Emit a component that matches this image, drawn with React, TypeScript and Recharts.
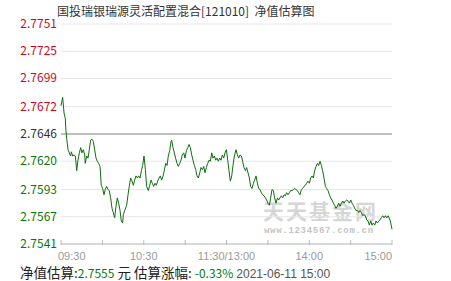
import React from 'react';
import { LineChart, Line, XAxis, YAxis, CartesianGrid, ReferenceLine } from 'recharts';

const BASE = 2.7646;

// left axis ticks (unit NAV), right axis labels (% change vs. base)
const navTicks = [2.7541, 2.7567, 2.7593, 2.762, 2.7646, 2.7672, 2.7699, 2.7725, 2.7751];
const pctLabels = ['-0.38%', '-0.29%', '-0.19%', '-0.10%', '0.00%', '0.10%', '0.19%', '0.29%', '0.38%'];

// minutes since 09:30 (trading minutes, lunch break removed)
const timeTicks = [0, 30, 60, 90, 120, 150, 180, 210, 240];
const timeLabels = ['09:30', '', '10:30', '', '11:30/13:00', '', '14:00', '', '15:00'];

// [minute, estimated nav]
const navPoints: [number, number][] = [
  [0, 2.7673], [1.2, 2.7681], [2.2, 2.7666], [3.1, 2.7661], [3.6, 2.7649], [4.1, 2.7642], [5.1, 2.7631],
  [6.0, 2.7628], [7.0, 2.7625], [7.5, 2.7629], [8.5, 2.7625], [9.4, 2.7626], [10.4, 2.7625], [11.4, 2.7611],
  [12.3, 2.7621], [13.3, 2.7628], [14.3, 2.7633], [15.2, 2.7628], [16.2, 2.7631], [17.2, 2.7626], [17.6, 2.7618],
  [18.6, 2.7625], [19.6, 2.7623], [20.5, 2.7631], [21.5, 2.764], [22.5, 2.7641], [23.4, 2.7639], [24.4, 2.7631],
  [25.4, 2.7623], [26.3, 2.762], [27.3, 2.7618], [28.3, 2.7615], [29.2, 2.7597], [30.2, 2.7594], [31.2, 2.7588],
  [32.1, 2.7593], [33.1, 2.7596], [34.1, 2.7593], [35.0, 2.7592], [36.0, 2.7585], [37.0, 2.7575], [37.9, 2.7571],
  [38.9, 2.7566], [39.9, 2.7577], [40.8, 2.7585], [41.8, 2.758], [42.8, 2.7573], [43.7, 2.7563], [44.7, 2.7561],
  [45.2, 2.7569], [46.2, 2.7573], [47.6, 2.7578], [48.6, 2.7588], [49.5, 2.7596], [50.5, 2.7604], [51.5, 2.7601],
  [52.5, 2.7597], [53.4, 2.7602], [54.4, 2.7606], [55.4, 2.7604], [56.3, 2.7606], [57.3, 2.7604], [58.3, 2.7611],
  [59.2, 2.7616], [60.2, 2.7625], [61.2, 2.7612], [62.1, 2.7596],
  [63.3, 2.7592], [64.3, 2.7597], [65.3, 2.7602], [66.2, 2.7599], [67.2, 2.7596], [68.2, 2.7599], [69.1, 2.7597],
  [70.1, 2.7601], [71.1, 2.7604], [72.0, 2.7606], [73.0, 2.7602], [74.0, 2.7606], [74.9, 2.7611], [75.9, 2.7618],
  [76.9, 2.7616], [77.8, 2.7625], [78.8, 2.763], [79.8, 2.7639], [80.3, 2.764], [81.2, 2.7633], [82.2, 2.7628],
  [83.1, 2.7623], [84.1, 2.7618], [85.1, 2.7615], [86.1, 2.7618], [87.0, 2.7621], [88.0, 2.7626], [89.0, 2.7628],
  [89.9, 2.7623], [90.9, 2.763], [91.9, 2.7633], [92.8, 2.7636], [93.8, 2.7633], [94.8, 2.7626], [95.7, 2.7621],
  [96.7, 2.7616], [97.7, 2.7612], [98.6, 2.7606], [99.6, 2.7604], [100.6, 2.7609], [101.5, 2.7614], [102.5, 2.7612],
  [103.5, 2.7615], [104.4, 2.7609], [105.4, 2.7614], [106.4, 2.7618], [107.3, 2.7621], [108.3, 2.762], [109.3, 2.7628],
  [110.2, 2.7623], [111.2, 2.7625], [112.2, 2.7621], [113.1, 2.7623], [114.1, 2.762], [115.1, 2.7623], [116.0, 2.7621],
  [117.0, 2.7626], [118.0, 2.7623], [118.9, 2.7628], [119.9, 2.7631], [120.9, 2.7621], [121.8, 2.7611], [122.8, 2.7601],
  [123.8, 2.7606], [124.7, 2.7616], [125.7, 2.7625],
  [126.9, 2.7631], [127.9, 2.7626], [128.8, 2.7623], [129.8, 2.7626], [130.8, 2.7625], [131.7, 2.762], [132.7, 2.7614],
  [133.7, 2.7611], [134.6, 2.7614], [135.6, 2.7609], [136.6, 2.7604], [137.5, 2.7596], [138.5, 2.7594], [139.5, 2.7599],
  [140.4, 2.7602], [141.4, 2.7606], [142.4, 2.7599], [143.3, 2.7594], [144.3, 2.7593], [145.3, 2.759], [146.2, 2.7588],
  [147.2, 2.7587], [148.2, 2.7585], [149.1, 2.7583], [150.1, 2.758], [151.1, 2.7578], [152.0, 2.7585], [153.0, 2.7593],
  [154.0, 2.7592], [154.9, 2.7585], [155.9, 2.758], [156.9, 2.7585], [157.8, 2.7583], [158.8, 2.7585], [159.8, 2.7587],
  [160.7, 2.7585], [161.7, 2.7588], [162.7, 2.7587], [163.6, 2.759], [164.6, 2.7588], [165.6, 2.759], [166.5, 2.7592],
  [167.5, 2.7592], [168.5, 2.7593], [169.4, 2.7594], [170.4, 2.7593], [171.4, 2.7592], [172.3, 2.759], [173.3, 2.7588],
  [174.3, 2.7593], [175.2, 2.7594], [176.2, 2.7596], [177.2, 2.7597], [178.1, 2.7599], [179.1, 2.7601], [180.1, 2.7599],
  [181.0, 2.7604], [182.0, 2.7606], [183.0, 2.7604], [183.9, 2.7611], [184.9, 2.7615], [185.9, 2.7618], [186.8, 2.7616],
  [187.8, 2.762], [188.8, 2.7616], [189.7, 2.7611], [190.7, 2.7604], [191.7, 2.7596], [192.6, 2.7594], [193.6, 2.7592],
  [194.6, 2.7588], [195.5, 2.7585], [196.5, 2.7583], [197.5, 2.758], [198.4, 2.7578], [199.4, 2.7575], [200.4, 2.7577],
  [201.3, 2.758], [202.3, 2.7577], [203.3, 2.758], [204.3, 2.7582], [205.2, 2.758], [206.2, 2.7582], [207.2, 2.7583],
  [208.1, 2.7582], [209.1, 2.758], [210.1, 2.7583], [211.0, 2.758], [212.0, 2.7578], [213.0, 2.7575], [213.9, 2.7573],
  [214.9, 2.7573], [215.9, 2.7571], [216.8, 2.7573], [217.8, 2.7571], [218.8, 2.7568], [219.7, 2.7569], [220.7, 2.7568],
  [221.7, 2.7564], [222.6, 2.7563], [223.6, 2.7559], [224.6, 2.7563], [225.5, 2.7559], [226.5, 2.7561], [227.5, 2.7559],
  [228.4, 2.7563], [229.4, 2.7561], [230.4, 2.7563], [231.3, 2.7564], [232.3, 2.7566], [233.3, 2.7568], [234.2, 2.7566],
  [235.2, 2.7568], [236.2, 2.7566], [237.2, 2.7568], [238.8, 2.7563], [240, 2.7555],
];

const data = navPoints.map(([t, v]) => ({ t, v }));

const RED = '#cc0a1e';
const GREEN = '#0a780a';
const DARK = '#333';
const CJK = '"Noto Sans CJK SC", sans-serif';

const colorFor = (value: number) =>
  Math.abs(value - BASE) < 0.00005 ? DARK : value > BASE ? RED : GREEN;

const NavTick = ({ x, y, payload }: any) => (
  <text x={x} y={y} dy={4} textAnchor="end" fontSize={12} fontFamily={CJK} fill={colorFor(payload.value)}>
    {payload.value.toFixed(4)}
  </text>
);

const PctTick = ({ x, y, payload, index }: any) => (
  <text x={x} y={y} dy={4} textAnchor="start" fontSize={12} fontFamily={CJK} fill={colorFor(payload.value)}>
    {pctLabels[index]}
  </text>
);

const TimeTick = ({ x, y, payload }: any) => {
  const i = timeTicks.indexOf(payload.value);
  const label = timeLabels[i];
  const last = i === timeTicks.length - 1;
  const anchor = i === 0 ? 'start' : last ? 'end' : 'middle';
  return (
    <g>
      <line x1={x} x2={x} y1={y - 4} y2={y + 1} stroke="#b8bcc4" />
      {label && (
        <text x={i === 0 ? x - 3 : x} y={y + 16} textAnchor={anchor} fontSize={11}
          fontFamily='"Liberation Sans", Arial, sans-serif' fill="#9a9a9a">
          {label}
        </text>
      )}
    </g>
  );
};

export default function App() {
  return (
    <div style={{ position: 'absolute', left: 0, top: 0, width: 451, height: 281, background: '#fff', overflow: 'hidden' }}>
      <div style={{ position: 'absolute', left: 57, top: 3, fontSize: 12, lineHeight: '16px', color: DARK, fontFamily: CJK, whiteSpace: 'nowrap' }}>
        国投瑞银瑞源灵活配置混合[121010]&nbsp;&nbsp;净值估算图
      </div>

      {/* watermark */}
      <div style={{ position: 'absolute', left: 263, top: 200, fontSize: 21, lineHeight: '21px', fontWeight: 700, letterSpacing: 2, color: '#d6d6d6', fontFamily: CJK, whiteSpace: 'nowrap' }}>
        天天基金网
      </div>
      <div style={{ position: 'absolute', left: 264, top: 227, fontSize: 9, lineHeight: '9px', fontWeight: 700, letterSpacing: 0.7, color: '#c4c4c4', fontFamily: '"Liberation Mono", monospace', whiteSpace: 'nowrap' }}>
        www.1234567.com.cn
      </div>

      <div style={{ position: 'absolute', left: 0, top: 0 }}>
        <LineChart width={451} height={281} data={data} margin={{ top: 24, right: 0, bottom: 17, left: 0 }}>
          <CartesianGrid yAxisId="nav" vertical={false} stroke="#e6e6e6" />
          <XAxis
            dataKey="t"
            type="number"
            domain={[0, 240]}
            ticks={timeTicks}
            interval={0}
            height={20}
            tickSize={0}
            tickMargin={0}
            tickLine={false}
            axisLine={{ stroke: '#b8bcc4' }}
            tick={<TimeTick />}
          />
          <YAxis
            yAxisId="nav"
            width={61}
            domain={[navTicks[0], navTicks[navTicks.length - 1]]}
            ticks={navTicks}
            interval={0}
            axisLine={false}
            tickLine={false}
            tickSize={0}
            tickMargin={4}
            tick={<NavTick />}
          />
          <YAxis
            yAxisId="pct"
            orientation="right"
            width={59}
            domain={[navTicks[0], navTicks[navTicks.length - 1]]}
            ticks={navTicks}
            interval={0}
            axisLine={false}
            tickLine={false}
            tickSize={0}
            tickMargin={3}
            tick={<PctTick />}
          />
          <ReferenceLine yAxisId="nav" y={BASE} stroke="#8c8c8c" />
          <Line
            yAxisId="nav"
            type="linear"
            dataKey="v"
            stroke="#0f6e0f"
            strokeWidth={1}
            dot={false}
            isAnimationActive={false}
          />
        </LineChart>
      </div>

      <div style={{ position: 'absolute', left: 20, top: 264, fontSize: 13.5, lineHeight: '16px', color: '#222', fontFamily: CJK, whiteSpace: 'nowrap' }}>
        净值估算:<span style={{ color: GREEN, fontSize: 12 }}>2.7555</span> 元 估算涨幅: <span style={{ color: GREEN, fontSize: 12 }}>-0.33%</span>{' '}
        <span style={{ color: '#555', fontSize: 12, fontFamily: '"Liberation Sans", Arial, sans-serif' }}>2021-06-11 15:00</span>
      </div>
    </div>
  );
}
